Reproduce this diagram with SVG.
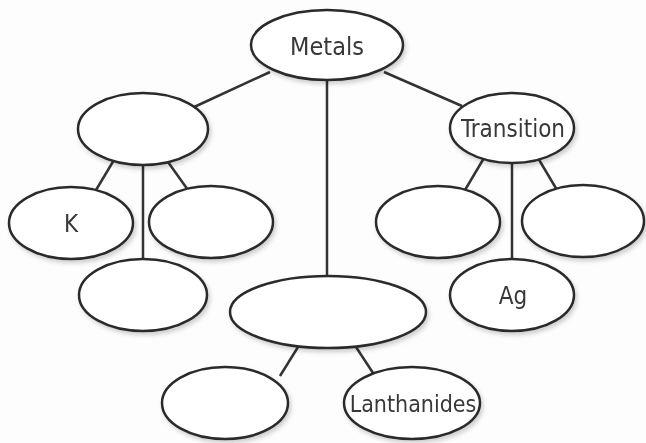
<svg xmlns="http://www.w3.org/2000/svg" width="646" height="443" viewBox="0 0 646 443">
<defs>
<style>
.n ellipse{fill:#fff;stroke:#2b2b2b;stroke-width:2.5}
.n text{font-family:"DejaVu Sans Condensed","Liberation Sans",sans-serif;font-size:24px;fill:#383838;text-anchor:middle}
#edges line{stroke:#333;stroke-width:2.5}
</style>
<filter id="sh" x="-10%" y="-10%" width="130%" height="140%">
<feDropShadow dx="2" dy="3" stdDeviation="2" flood-color="#000" flood-opacity="0.18"/>
</filter>
</defs>
<rect width="646" height="443" fill="#fdfdfd"/>
<g id="edges">
<line x1="270" y1="72" x2="192" y2="108"/>
<line x1="384" y1="72" x2="462" y2="106"/>
<line x1="327" y1="80" x2="327" y2="276"/>
<line x1="114" y1="160" x2="96" y2="190"/>
<line x1="143" y1="166" x2="143" y2="260"/>
<line x1="168" y1="162" x2="188" y2="190"/>
<line x1="484" y1="158" x2="465" y2="190"/>
<line x1="512" y1="163" x2="512" y2="259"/>
<line x1="538" y1="158" x2="557" y2="190"/>
<line x1="298" y1="347" x2="280" y2="376"/>
<line x1="356" y1="347" x2="375" y2="376"/>
</g>
<g id="metals" class="n" filter="url(#sh)"><ellipse cx="327" cy="45" rx="76" ry="35"/><text x="327" y="55" style="font-size:25px">Metals</text></g>
<g id="alkali" class="n" filter="url(#sh)"><ellipse cx="143" cy="129" rx="65" ry="36"/></g>
<g id="transition" class="n" filter="url(#sh)"><ellipse cx="512" cy="128" rx="62" ry="35"/><text x="513" y="137">Transition</text></g>
<g id="k" class="n" filter="url(#sh)"><ellipse cx="71" cy="223" rx="62" ry="36"/><text x="71" y="232">K</text></g>
<g id="alkali2" class="n" filter="url(#sh)"><ellipse cx="211" cy="222" rx="62" ry="36"/></g>
<g id="alkali3" class="n" filter="url(#sh)"><ellipse cx="143" cy="295" rx="64" ry="36"/></g>
<g id="inner" class="n" filter="url(#sh)"><ellipse cx="328" cy="312" rx="98" ry="36"/></g>
<g id="trans1" class="n" filter="url(#sh)"><ellipse cx="438" cy="222" rx="62" ry="36"/></g>
<g id="trans2" class="n" filter="url(#sh)"><ellipse cx="583" cy="221" rx="61" ry="36"/></g>
<g id="ag" class="n" filter="url(#sh)"><ellipse cx="512" cy="295" rx="62" ry="36"/><text x="513" y="304">Ag</text></g>
<g id="actinides" class="n" filter="url(#sh)"><ellipse cx="225" cy="403" rx="63" ry="36"/></g>
<g id="lanthanides" class="n" filter="url(#sh)"><ellipse cx="412" cy="403" rx="68" ry="36"/><text x="413" y="412" style="font-size:23px">Lanthanides</text></g>
</svg>
